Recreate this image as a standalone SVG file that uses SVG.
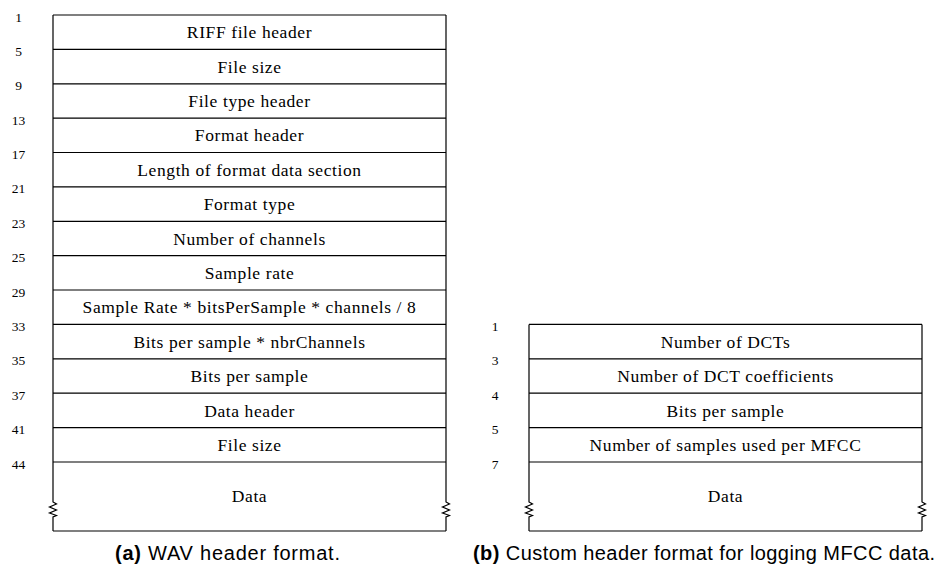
<svg xmlns="http://www.w3.org/2000/svg" width="945" height="572" viewBox="0 0 945 572">
<style>
.box{fill:none;stroke:#000;stroke-width:1.2}
.lbl{font-family:"Liberation Serif",serif;font-size:17.5px;letter-spacing:0.6px;text-anchor:middle;fill:#000}
.num{font-family:"Liberation Serif",serif;font-size:13.5px;text-anchor:middle;fill:#000}
.cap{font-family:"Liberation Sans",Arial,sans-serif;font-size:20px;fill:#000}
</style>
<rect width="945" height="572" fill="#fff"/>
<g id="wav">
<g id="wav-frame">
<path class="box" d="M53,15 H446 M53,49.4 H446 M53,83.8 H446 M53,118.1 H446 M53,152.5 H446 M53,186.9 H446 M53,221.3 H446 M53,255.7 H446 M53,290 H446 M53,324.4 H446 M53,358.8 H446 M53,393.2 H446 M53,427.6 H446 M53,462 H446 M53,531 H446"/>
<path class="box" d="M53,15 V502 L56.5,504 L49.5,507 L56.5,510 L49.5,513 L56.5,515.5 L53,517 V531"/>
<path class="box" d="M446,15 V502 L449.5,504 L442.5,507 L449.5,510 L442.5,513 L449.5,515.5 L446,517 V531"/>
</g>
<g id="wav-labels">
<text class="lbl" x="249.5" y="38.3">RIFF file header</text>
<text class="lbl" x="249.5" y="72.7">File size</text>
<text class="lbl" x="249.5" y="107.1">File type header</text>
<text class="lbl" x="249.5" y="141.4">Format header</text>
<text class="lbl" x="249.5" y="175.8">Length of format data section</text>
<text class="lbl" x="249.5" y="210.2">Format type</text>
<text class="lbl" x="249.5" y="244.6">Number of channels</text>
<text class="lbl" x="249.5" y="279">Sample rate</text>
<text class="lbl" x="249.5" y="313.3">Sample Rate * bitsPerSample * channels / 8</text>
<text class="lbl" x="249.5" y="347.7">Bits per sample * nbrChannels</text>
<text class="lbl" x="249.5" y="382.1">Bits per sample</text>
<text class="lbl" x="249.5" y="416.5">Data header</text>
<text class="lbl" x="249.5" y="450.9">File size</text>
<text class="lbl" x="249.5" y="501.5">Data</text>
</g>
<g id="wav-offsets">
<text class="num" x="18.5" y="21.5">1</text>
<text class="num" x="18.5" y="55.9">5</text>
<text class="num" x="18.5" y="90.3">9</text>
<text class="num" x="18.5" y="124.6">13</text>
<text class="num" x="18.5" y="159">17</text>
<text class="num" x="18.5" y="193.4">21</text>
<text class="num" x="18.5" y="227.8">23</text>
<text class="num" x="18.5" y="262.2">25</text>
<text class="num" x="18.5" y="296.5">29</text>
<text class="num" x="18.5" y="330.9">33</text>
<text class="num" x="18.5" y="365.3">35</text>
<text class="num" x="18.5" y="399.7">37</text>
<text class="num" x="18.5" y="434.1">41</text>
<text class="num" x="18.5" y="468.5">44</text>
</g>
<text id="cap-a" class="cap" x="115" y="560" textLength="225" lengthAdjust="spacing"><tspan font-weight="bold">(a)</tspan> WAV header format.</text>
</g>
<g id="mfcc">
<g id="mfcc-frame">
<path class="box" d="M529,324.4 H922 M529,358.8 H922 M529,393.2 H922 M529,427.6 H922 M529,462 H922 M529,531 H922"/>
<path class="box" d="M529,324.4 V502 L532.5,504 L525.5,507 L532.5,510 L525.5,513 L532.5,515.5 L529,517 V531"/>
<path class="box" d="M922,324.4 V502 L925.5,504 L918.5,507 L925.5,510 L918.5,513 L925.5,515.5 L922,517 V531"/>
</g>
<g id="mfcc-labels">
<text class="lbl" x="725.5" y="347.7">Number of DCTs</text>
<text class="lbl" x="725.5" y="382.1">Number of DCT coefficients</text>
<text class="lbl" x="725.5" y="416.5">Bits per sample</text>
<text class="lbl" x="725.5" y="450.9">Number of samples used per MFCC</text>
<text class="lbl" x="725.5" y="501.5">Data</text>
</g>
<g id="mfcc-offsets">
<text class="num" x="495" y="330.9">1</text>
<text class="num" x="495" y="365.3">3</text>
<text class="num" x="495" y="399.7">4</text>
<text class="num" x="495" y="434.1">5</text>
<text class="num" x="495" y="468.5">7</text>
</g>
<text id="cap-b" class="cap" x="473" y="560" textLength="462" lengthAdjust="spacing"><tspan font-weight="bold">(b)</tspan> Custom header format for logging MFCC data.</text>
</g>
</svg>
